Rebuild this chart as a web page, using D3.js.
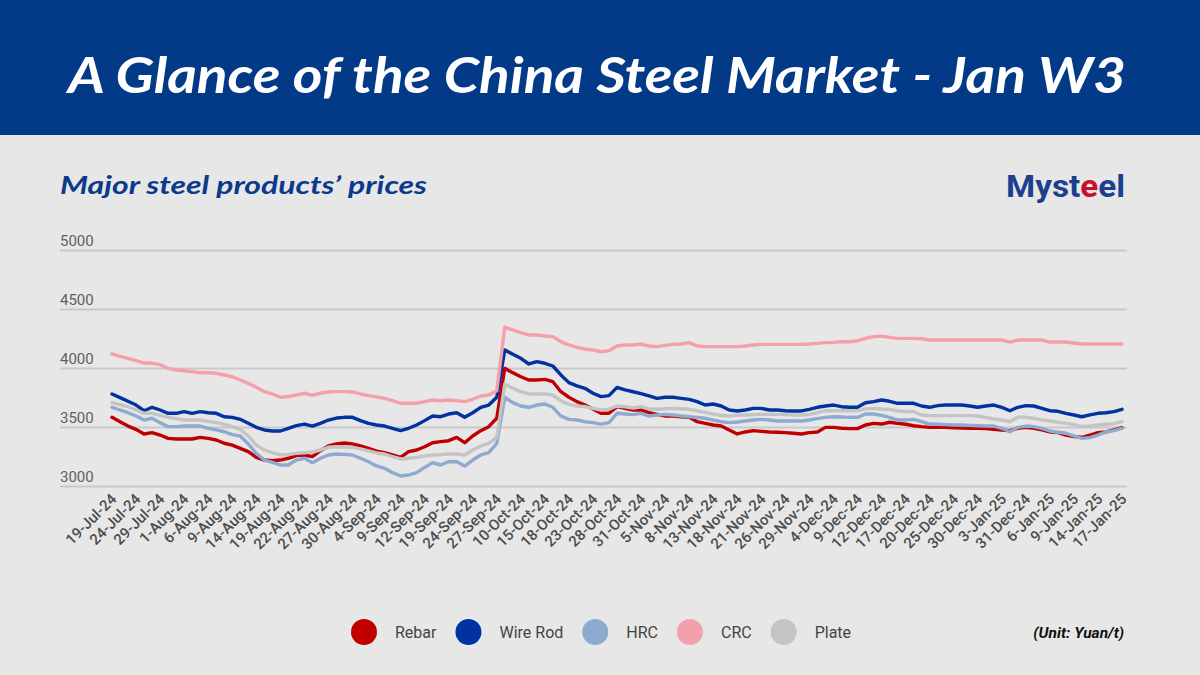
<!DOCTYPE html>
<html>
<head>
<meta charset="utf-8">
<script src="https://cdn.jsdelivr.net/npm/d3@7"></script>
<style>
  body { margin: 0; background: #e7e7e7; }
  svg { display: block; }
</style>
</head>
<body>
<div class="chart"></div>
<script>
// tick labels shown every 3 trading days
var dateLabels = [ '19-Jul-24', '24-Jul-24', '29-Jul-24', '1-Aug-24', '6-Aug-24', '9-Aug-24', '14-Aug-24',
    '19-Aug-24', '22-Aug-24', '27-Aug-24', '30-Aug-24', '4-Sep-24', '9-Sep-24', '12-Sep-24', '19-Sep-24',
    '24-Sep-24', '27-Sep-24', '10-Oct-24', '15-Oct-24', '18-Oct-24', '23-Oct-24', '28-Oct-24', '31-Oct-24',
    '5-Nov-24', '8-Nov-24', '13-Nov-24', '18-Nov-24', '21-Nov-24', '26-Nov-24', '29-Nov-24', '4-Dec-24',
    '9-Dec-24', '12-Dec-24', '17-Dec-24', '20-Dec-24', '25-Dec-24', '30-Dec-24', '3-Jan-25', '31-Dec-24',
    '6-Jan-25', '9-Jan-25', '14-Jan-25', '17-Jan-25' ];
var labelStep = 3;

var yTicks = [ 3000, 3500, 4000, 4500, 5000 ];

var seriesNames = [ 'Rebar', 'Wire Rod', 'HRC', 'CRC', 'Plate' ];
var seriesColors = [ '#c00000', '#0033a0', '#8eaad0', '#f4a0ab', '#c4c4c4' ];

// prices, Yuan/t, one value per trading day
var rebar = [
    3582, 3545, 3508, 3480, 3441, 3452, 3432, 3404, 3398, 3398,
    3398, 3412, 3404, 3390, 3362, 3347, 3319, 3291, 3243, 3220,
    3215, 3220, 3235, 3257, 3263, 3249, 3299, 3339, 3356, 3364,
    3356, 3339, 3319, 3295, 3282, 3263, 3243, 3291, 3305, 3333,
    3367, 3376, 3384, 3412, 3367, 3424, 3469, 3503, 3574, 3997,
    3960, 3926, 3898, 3898, 3904, 3884, 3799, 3752, 3715, 3686,
    3653, 3616, 3616, 3672, 3658, 3644, 3644, 3621, 3607, 3593,
    3593, 3587, 3582, 3545, 3531, 3517, 3508, 3475, 3441, 3458,
    3469, 3463, 3458, 3455, 3452, 3447, 3441, 3452, 3458, 3497,
    3497, 3489, 3486, 3486, 3517, 3531, 3525, 3540, 3531, 3523,
    3511, 3503, 3497, 3497, 3497, 3494, 3492, 3489, 3489, 3486,
    3480, 3475, 3469, 3489, 3497, 3489, 3475, 3458, 3452, 3432,
    3418, 3413, 3432, 3452, 3458, 3475, 3494 ];

var wireRod = [
    3780, 3749, 3718, 3686, 3638, 3667, 3644, 3616, 3616, 3630,
    3616, 3630, 3621, 3616, 3587, 3582, 3565, 3531, 3497, 3475,
    3466, 3466, 3489, 3511, 3525, 3508, 3531, 3559, 3576, 3582,
    3582, 3554, 3531, 3517, 3508, 3489, 3469, 3489, 3517, 3554,
    3593, 3587, 3610, 3621, 3582, 3621, 3667, 3686, 3752, 4153,
    4116, 4082, 4034, 4054, 4040, 4017, 3941, 3876, 3848, 3828,
    3786, 3757, 3766, 3836, 3814, 3799, 3783, 3763, 3743, 3752,
    3752, 3743, 3734, 3715, 3686, 3695, 3678, 3644, 3636, 3644,
    3658, 3658, 3644, 3644, 3638, 3636, 3636, 3650, 3667, 3678,
    3686, 3672, 3667, 3667, 3706, 3715, 3729, 3718, 3701, 3701,
    3701, 3678, 3667, 3681, 3686, 3686, 3686, 3678, 3667, 3678,
    3686, 3667, 3638, 3667, 3681, 3678, 3658, 3638, 3633, 3616,
    3602, 3587, 3602, 3616, 3621, 3630, 3650 ];

var hrc = [
    3667, 3644, 3621, 3593, 3559, 3574, 3537, 3503, 3503, 3508,
    3508, 3508, 3489, 3475, 3460, 3435, 3424, 3356, 3277, 3220,
    3200, 3178, 3178, 3220, 3235, 3198, 3235, 3263, 3271, 3268,
    3263, 3235, 3206, 3170, 3150, 3113, 3085, 3093, 3113, 3158,
    3198, 3178, 3206, 3206, 3169, 3220, 3263, 3282, 3362, 3752,
    3706, 3678, 3667, 3686, 3695, 3667, 3593, 3565, 3559, 3545,
    3537, 3525, 3537, 3616, 3610, 3605, 3616, 3593, 3602, 3607,
    3602, 3593, 3587, 3582, 3574, 3559, 3545, 3537, 3542, 3551,
    3559, 3565, 3559, 3551, 3551, 3551, 3551, 3559, 3571, 3582,
    3587, 3585, 3582, 3582, 3610, 3610, 3599, 3582, 3559, 3559,
    3565, 3545, 3525, 3523, 3520, 3517, 3517, 3514, 3511, 3508,
    3508, 3489, 3460, 3497, 3508, 3503, 3489, 3466, 3455, 3447,
    3424, 3404, 3410, 3432, 3458, 3469, 3489 ];

var crc = [
    4120, 4099, 4082, 4062, 4042, 4042, 4028, 3997, 3983, 3977,
    3969, 3960, 3960, 3955, 3941, 3926, 3898, 3870, 3836, 3799,
    3780, 3752, 3758, 3771, 3786, 3769, 3786, 3797, 3800, 3800,
    3797, 3780, 3766, 3755, 3743, 3723, 3701, 3701, 3701, 3715,
    3729, 3723, 3729, 3723, 3715, 3735, 3763, 3771, 3808, 4345,
    4322, 4299, 4280, 4280, 4271, 4266, 4223, 4195, 4175, 4161,
    4153, 4138, 4147, 4186, 4195, 4195, 4203, 4186, 4181, 4192,
    4200, 4203, 4215, 4186, 4181, 4181, 4181, 4181, 4181, 4186,
    4195, 4200, 4200, 4200, 4200, 4200, 4200, 4203, 4209, 4215,
    4217, 4223, 4223, 4229, 4251, 4266, 4270, 4260, 4251, 4251,
    4251, 4248, 4237, 4237, 4237, 4237, 4237, 4237, 4237, 4237,
    4237, 4237, 4220, 4237, 4237, 4237, 4237, 4220, 4220, 4220,
    4212, 4203, 4203, 4203, 4203, 4203, 4203 ];

var plate = [
    3706, 3689, 3672, 3644, 3616, 3616, 3599, 3582, 3571, 3559,
    3559, 3559, 3548, 3537, 3523, 3503, 3480, 3424, 3347, 3305,
    3282, 3263, 3268, 3277, 3282, 3288, 3305, 3328, 3333, 3330,
    3328, 3314, 3297, 3280, 3271, 3249, 3229, 3235, 3243, 3254,
    3263, 3266, 3271, 3271, 3263, 3305, 3339, 3362, 3412, 3864,
    3828, 3799, 3780, 3780, 3780, 3771, 3723, 3692, 3678, 3672,
    3658, 3644, 3650, 3678, 3672, 3661, 3672, 3653, 3650, 3655,
    3658, 3655, 3650, 3638, 3624, 3610, 3599, 3593, 3599, 3602,
    3605, 3607, 3607, 3607, 3605, 3602, 3602, 3607, 3621, 3638,
    3638, 3638, 3638, 3638, 3653, 3658, 3653, 3650, 3636, 3630,
    3630, 3602, 3596, 3596, 3596, 3596, 3596, 3596, 3593, 3582,
    3568, 3559, 3545, 3582, 3582, 3574, 3559, 3551, 3540, 3531,
    3520, 3503, 3508, 3517, 3523, 3528, 3545 ];

var seriesData = [ rebar, wireRod, hrc, crc, plate ];

var width = 1200, height = 675;

var svg = d3.select( '.chart' )
    .append( 'svg' )
    .attr( 'width' , width )
    .attr( 'height' , height );

svg.append( 'rect' )
    .attr( 'width' , width ).attr( 'height' , height )
    .attr( 'fill' , '#e7e7e7' );

// header band
svg.append( 'rect' )
    .attr( 'width' , width ).attr( 'height' , 135 )
    .attr( 'fill' , '#023a88' );

svg.append( 'text' )
    .attr( 'x' , 68 ).attr( 'y' , 93 )
    .attr( 'textLength' , 1058 )
    .attr( 'lengthAdjust' , 'spacingAndGlyphs' )
    .style( 'font-family' , 'Lato, "Open Sans", sans-serif' )
    .style( 'font-weight' , 700 )
    .style( 'font-style' , 'italic' )
    .style( 'font-size' , '50px' )
    .attr( 'fill' , '#ffffff' )
    .text( 'A Glance of the China Steel Market - Jan W3' );

svg.append( 'text' )
    .attr( 'x' , 60 ).attr( 'y' , 194 )
    .attr( 'textLength' , 367 )
    .attr( 'lengthAdjust' , 'spacingAndGlyphs' )
    .style( 'font-family' , 'Lato, "Open Sans", sans-serif' )
    .style( 'font-weight' , 700 )
    .style( 'font-style' , 'italic' )
    .style( 'font-size' , '25px' )
    .attr( 'fill' , '#0b3a8c' )
    .text( 'Major steel products’ prices' );

// logo
var logo = svg.append( 'text' )
    .attr( 'x' , 1006 ).attr( 'y' , 197 )
    .attr( 'textLength' , 119 )
    .attr( 'lengthAdjust' , 'spacingAndGlyphs' )
    .style( 'font-family' , 'Roboto, sans-serif' )
    .style( 'font-weight' , 700 )
    .style( 'font-size' , '31px' )
    .attr( 'fill' , '#1d3f8f' );
logo.append( 'tspan' ).text( 'Myst' );
logo.append( 'tspan' ).attr( 'fill' , '#c8102e' ).text( 'e' );
logo.append( 'tspan' ).text( 'el' );

var x = d3.scaleLinear()
    .domain( [ 0 , rebar.length - 1 ] )
    .range( [ 112 , 1122 ] );

var y = d3.scaleLinear()
    .domain( [ 3000 , 5000 ] )
    .range( [ 486 , 250 ] );

// gridlines + y labels
var yAxis = svg.append( 'g' )
    .attr( 'transform' , 'translate(60,0)' )
    .call( d3.axisRight( y ).tickValues( yTicks ).tickSize( 1067 ).tickFormat( d3.format( 'd' ) ) );
yAxis.select( '.domain' ).remove();
yAxis.selectAll( '.tick line' )
    .attr( 'stroke' , '#c9c9c9' )
    .attr( 'stroke-width' , 2 );
yAxis.selectAll( '.tick text' )
    .attr( 'x' , 0 ).attr( 'dy' , -5 )
    .attr( 'text-anchor' , 'start' )
    .attr( 'fill' , '#5f5f5f' )
    .style( 'font-family' , 'Roboto, sans-serif' )
    .style( 'font-size' , '15px' );

// x labels
var xAxis = svg.append( 'g' )
    .attr( 'transform' , 'translate(0,486)' )
    .call( d3.axisBottom( x )
        .tickValues( d3.range( 0 , rebar.length , labelStep ) )
        .tickSize( 0 )
        .tickFormat( function( d ){ return dateLabels[ d / labelStep ]; } ) );
xAxis.select( '.domain' ).remove();
xAxis.selectAll( '.tick text' )
    .attr( 'x' , 5 ).attr( 'y' , 14 ).attr( 'dy' , 0 )
    .attr( 'text-anchor' , 'end' )
    .attr( 'transform' , 'rotate(-45,5,14)' )
    .attr( 'fill' , '#4c4c4c' )
    .style( 'font-family' , 'Roboto, sans-serif' )
    .style( 'font-weight' , 500 )
    .style( 'font-size' , '15px' );

// lines
var line = d3.line()
    .x( function( d , i ){ return x( i ); } )
    .y( function( d ){ return y( d ); } );

svg.selectAll( 'path.series' )
    .data( seriesData )
    .enter()
        .append( 'path' )
        .attr( 'class' , 'series' )
        .attr( 'd' , line )
        .attr( 'fill' , 'none' )
        .attr( 'stroke' , function( d , i ){ return seriesColors[ i ]; } )
        .attr( 'stroke-width' , 3.4 )
        .attr( 'stroke-linejoin' , 'round' )
        .attr( 'stroke-linecap' , 'round' );

// legend
var legend = svg.append( 'g' ).attr( 'transform' , 'translate(0,632)' );
var lx = 364;
seriesNames.forEach( function( name , i ) {
    legend.append( 'circle' )
        .attr( 'cx' , lx ).attr( 'cy' , 0 ).attr( 'r' , 13 )
        .attr( 'fill' , seriesColors[ i ] );
    var t = legend.append( 'text' )
        .attr( 'x' , lx + 31 ).attr( 'y' , 6 )
        .attr( 'fill' , '#444444' )
        .style( 'font-family' , 'Roboto, sans-serif' )
        .style( 'font-size' , '16px' )
        .text( name );
    lx += 31 + t.node().getComputedTextLength() + 32;
});

svg.append( 'text' )
    .attr( 'x' , 1124 ).attr( 'y' , 638 )
    .attr( 'text-anchor' , 'end' )
    .attr( 'fill' , '#111111' )
    .style( 'font-family' , 'Roboto, sans-serif' )
    .style( 'font-weight' , 700 )
    .style( 'font-style' , 'italic' )
    .style( 'font-size' , '15.5px' )
    .text( '(Unit: Yuan/t)' );
</script>
</body>
</html>
